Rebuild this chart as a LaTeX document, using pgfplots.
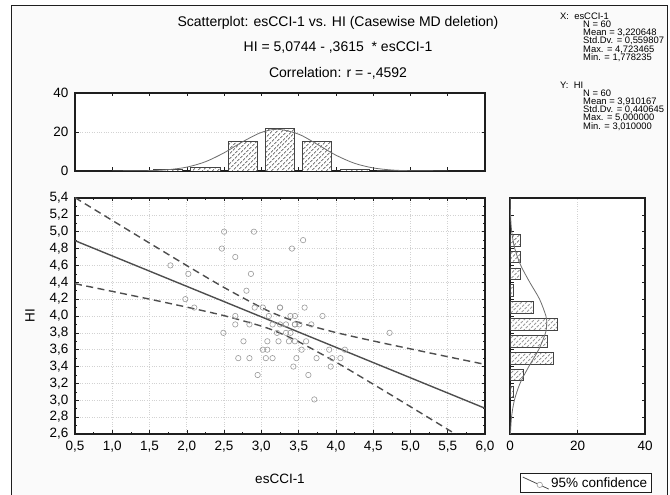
\documentclass[border=0pt]{standalone}
\usepackage{fontspec}
\setmainfont{Liberation Sans}
\usepackage{pgfplots}
\pgfplotsset{compat=1.18}
\usetikzlibrary{patterns,patterns.meta}
\definecolor{frame}{HTML}{1E1E1E}
\definecolor{pts}{HTML}{9A9A9A}
\definecolor{fitc}{HTML}{4E4E4E}
\definecolor{gridc}{HTML}{D2D2D2}
\definecolor{hatch}{HTML}{444444}
\definecolor{curvec}{HTML}{6E6E6E}
\definecolor{bg}{HTML}{FAFAFA}
\tikzset{statfont/.style={font=\fontsize{9.4bp}{8.2bp}\selectfont}}
\pgfplotsset{
  statbase/.style={
    scale only axis, anchor=south west,
    axis background/.style={fill=white},
    axis line style={frame, line width=1.1pt},
    tick style={frame, line width=0.6pt},
    tick align=inside, major tick length=3.5bp, minor tick length=2bp,
    tick label style={font=\fontsize{13.5bp}{15bp}\selectfont},
    xticklabel style={yshift=-4bp},
    yticklabel style={xshift=-3bp},
    label style={font=\fontsize{13.5bp}{15bp}\selectfont},
    /pgf/number format/assume math mode=true,
    grid style={gridc, dotted, line width=0.7pt},
  },
  decimal/.style={/pgf/number format/.cd, fixed, fixed zerofill, precision=1, use comma},
  hatched/.style={draw=hatch, line width=0.9pt, fill=white,
    postaction={pattern={Lines[angle=45, distance=3.6bp, line width=0.75bp]}, pattern color=hatch}},
}
\begin{document}
\begin{tikzpicture}[x=1bp,y=1bp]
\clip (0,0) rectangle (670,495);
\fill[bg] (11,-10) rectangle (667,489);
\draw[frame, line width=1pt] (11,-10) rectangle (667,489);

\node[font=\fontsize{14bp}{16bp}\selectfont] at (338,472) {Scatterplot: esCCI-1 vs. HI (Casewise MD deletion)};
\node[font=\fontsize{14bp}{16bp}\selectfont] at (338,447) {HI = 5,0744 - ,3615 \ * esCCI-1};
\node[font=\fontsize{14bp}{16bp}\selectfont] at (338,422) {Correlation: r = -,4592};

\node[anchor=north west, inner sep=0pt, align=left, statfont] at (560,482.5)
  {X:\ \ esCCI-1\\ \hspace*{23bp}N = 60\\ \hspace*{23bp}Mean = 3,220648\\ \hspace*{23bp}Std.Dv. = 0,559807\\ \hspace*{23bp}Max. = 4,723465\\ \hspace*{23bp}Min. = 1,778235};
\node[anchor=north west, inner sep=0pt, align=left, statfont] at (560,413.5)
  {Y:\ \ HI\\ \hspace*{23bp}N = 60\\ \hspace*{23bp}Mean = 3,910167\\ \hspace*{23bp}Std.Dv. = 0,440645\\ \hspace*{23bp}Max. = 5,000000\\ \hspace*{23bp}Min. = 3,010000};

% top histogram of esCCI-1
\begin{axis}[statbase, at={(75bp,324bp)}, width=410bp, height=78bp,
  xmin=0.5, xmax=6, ymin=0, ymax=40,
  xtick={0.5,1,...,6}, xticklabels={},
  ytick={0,20,40}, ymajorgrids=true,
]
\addplot[ybar, bar width=0.39, hatched]
  coordinates {(1.75,1)(2.25,2)(2.75,15)(3.25,22)(3.75,15)(4.25,1)(4.75,0.5)};
\addplot[smooth, curvec, line width=0.8pt] coordinates {
  (1.0,0.01)(1.5,0.19)(1.75,0.68)(2.0,1.98)(2.25,4.75)(2.5,9.34)(2.75,15.02)(3.0,19.78)
  (3.22,21.38)(3.5,18.88)(3.75,13.67)(4.0,8.11)(4.25,3.94)(4.5,1.57)(4.75,0.51)(5.0,0.14)(5.5,0.01)};
\end{axis}

% scatterplot
\begin{axis}[statbase, at={(75bp,61bp)}, width=410bp, height=236bp,
  xmin=0.5, xmax=6, ymin=2.6, ymax=5.4,
  xtick={0.5,1,...,6}, ytick={2.6,2.8,...,5.41},
  minor tick num=1,
  xticklabel style={decimal}, yticklabel style={decimal},
  grid=major,
  xlabel={esCCI-1}, ylabel={HI},
  xlabel style={at={(0.5,-0.19)}, anchor=center},
  ylabel style={at={(-0.11,0.5)}, anchor=center},
  legend style={at={(1.085,-0.165)}, anchor=north west, draw=frame, line width=1pt,
    fill=white, font=\fontsize{13.5bp}{15bp}\selectfont, inner sep=2pt},
]
\addlegendimage{legend image code/.code={
  \draw[fitc, line width=0.8pt] (0bp,6bp) -- (26bp,-6bp);
  \draw[pts, fill=white, line width=0.6pt] (17bp,-1.8bp) circle (2.7bp);}}
\addlegendentry{95\% confidence}
\addplot[only marks, mark=o, mark size=2.7bp, pts, mark options={line width=0.6pt}] coordinates {
  (2.50,5.00)(2.90,5.00)(3.56,4.90)(2.47,4.80)(3.41,4.80)(2.65,4.70)(1.78,4.60)(2.02,4.50)
  (2.86,4.50)(2.80,4.30)(1.98,4.20)(2.10,4.10)(2.91,4.10)(3.02,4.10)(3.25,4.10)(3.58,4.10)
  (3.25,4.10)(2.65,4.00)(3.10,4.00)(3.39,4.00)(3.45,4.00)(3.82,4.00)(2.65,3.90)(2.84,3.90)
  (3.15,3.90)(3.25,3.90)(3.33,3.90)(3.45,3.90)(3.51,3.90)(3.67,3.90)(3.45,3.90)(2.49,3.80)
  (3.21,3.80)(3.33,3.80)(3.39,3.80)(4.72,3.80)(2.76,3.70)(3.08,3.70)(3.23,3.70)(3.37,3.70)
  (3.45,3.70)(3.60,3.70)(3.02,3.60)(3.08,3.60)(3.54,3.60)(3.91,3.60)(4.12,3.60)(2.69,3.50)
  (2.84,3.50)(3.06,3.50)(3.15,3.50)(3.47,3.50)(3.74,3.50)(3.95,3.50)(4.06,3.50)(3.43,3.40)
  (3.93,3.40)(2.95,3.30)(3.63,3.30)(3.71,3.01)};
\addplot[fitc, line width=1.4pt] coordinates {(0.5,4.8937)(6.0,2.9054)};
\addplot[smooth, fitc, line width=1.4pt, dash pattern=on 7bp off 4.5bp] coordinates {
  (0.5,5.404)(1.0,5.134)(1.5,4.865)(2.0,4.598)(2.5,4.338)(3.0,4.100)(3.22,4.012)
  (3.5,3.923)(4.0,3.804)(4.5,3.704)(5.0,3.610)(5.5,3.517)(6.0,3.426)};
\addplot[smooth, fitc, line width=1.4pt, dash pattern=on 7bp off 4.5bp] coordinates {
  (0.5,4.383)(1.0,4.292)(1.5,4.200)(2.0,4.105)(2.5,4.004)(3.0,3.880)(3.22,3.808)
  (3.5,3.695)(4.0,3.453)(4.5,3.191)(5.0,2.924)(5.5,2.655)(6.0,2.385)};
\end{axis}

% right histogram of HI
\begin{axis}[statbase, at={(510bp,61bp)}, width=135bp, height=236bp,
  xmin=0, xmax=40, ymin=2.6, ymax=5.4,
  xtick={0,20,40}, xtick pos=bottom, xmajorgrids=true,
  ytick={2.6,2.8,...,5.41}, yticklabels={},
]
\addplot[xbar, bar width=0.14, hatched]
  coordinates {(1,3.1)(4,3.3)(13,3.5)(11,3.7)(14,3.9)(7,4.1)(1,4.3)(3,4.5)(3,4.7)(3,4.9)};
\addplot[smooth, curvec, line width=0.8pt] coordinates {
  (0.04,5.4)(0.15,5.2)(0.51,5.0)(1.41,4.8)(3.19,4.6)(5.85,4.4)(8.75,4.2)(10.64,4.0)(10.86,3.91)
  (10.53,3.8)(8.48,3.6)(5.56,3.4)(2.96,3.2)(1.29,3.0)(0.45,2.8)(0.13,2.6)};
\end{axis}
\end{tikzpicture}
\end{document}
